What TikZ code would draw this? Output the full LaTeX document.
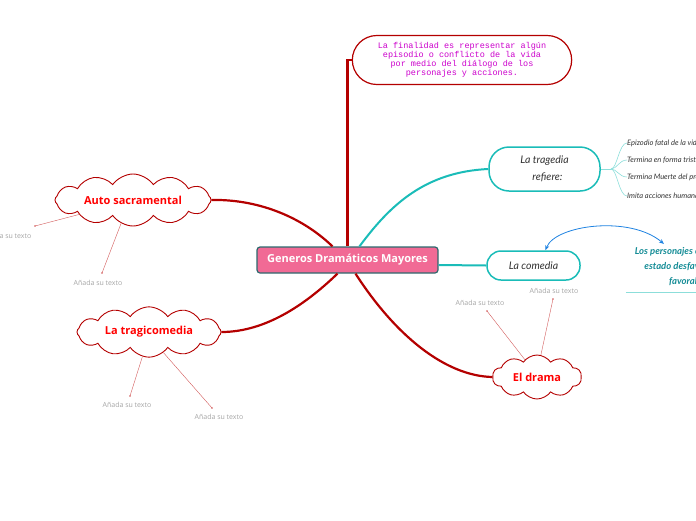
\documentclass[tikz,border=0pt]{standalone}
\usepackage{fontspec}
\setmainfont{Open Sans}
\newfontfamily\monofont{Liberation Mono}
\newfontfamily\handfont{Lato}
\usepackage{xcolor}
\usetikzlibrary{arrows.meta,shapes,shapes.symbols,shapes.misc}
\definecolor{branchred}{RGB}{180,0,0}
\definecolor{tealline}{RGB}{26,188,184}
\definecolor{pinkfill}{RGB}{241,106,149}
\definecolor{pinkborder}{RGB}{45,105,110}
\definecolor{magtext}{RGB}{204,0,204}
\definecolor{graytext}{RGB}{165,165,165}
\definecolor{thinred}{RGB}{210,90,90}
\definecolor{arrowblue}{RGB}{30,130,225}
\definecolor{persteal}{RGB}{20,140,150}
\definecolor{lightteal}{RGB}{140,222,218}
\definecolor{textdark}{RGB}{50,50,50}
\tikzset{
  genbox/.style={draw=pinkborder,fill=pinkfill,line width=1.2pt,rounded corners=3pt,minimum width=181pt,minimum height=26pt,text=white,font=\bfseries\fontsize{11}{13}\selectfont},
  finbox/.style={rounded rectangle,draw=branchred,line width=1.2pt,fill=white,minimum width=226pt,minimum height=49pt,align=center,text=magtext,font=\monofont\fontsize{8.5}{9}\selectfont},
  tealbox/.style={draw=tealline,line width=1.5pt,fill=white,align=center,text=textdark,font=\handfont\itshape\fontsize{10.5}{17}\selectfont},
  cloudnode/.style={cloud,cloud puffs=12,cloud puff arc=110,draw=branchred,line width=0.9pt,fill=white,text=red,inner sep=0pt,font=\bfseries\fontsize{11}{13}\selectfont},
  itemtxt/.style={anchor=west,inner sep=0pt,text=textdark,font=\handfont\itshape\fontsize{7.5}{8}\selectfont},
  addtxt/.style={text=graytext,inner sep=0pt,font=\fontsize{7}{8}\selectfont},
  redbranch/.style={draw=branchred,line width=2.2pt},
  tealbranch/.style={draw=tealline,line width=2pt},
  thinline/.style={draw=thinred,line width=0.4pt}
}
\begin{document}
\begin{tikzpicture}[x=1pt,y=-1pt,>=Stealth]
\useasboundingbox (0,0) rectangle (696,520);
\clip (0,0) rectangle (696,520);
\node[genbox](gen)at(347.5,260){Generos Dramáticos Mayores};
\node[finbox](fin)at(462,60){La finalidad es representar algún\\episodio o conflicto de la vida\\por medio del diálogo de los\\personajes y acciones.};
\node[tealbox,rounded corners=20pt,minimum width=111pt,minimum height=44pt](trag)at(544.5,169){La tragedia\\\hspace*{6pt}refiere:};
\node[tealbox,rounded corners=14pt,minimum width=93pt,minimum height=29pt](com)at(533.5,265.5){La comedia};
\node[cloudnode,aspect=4,minimum width=156pt,minimum height=38pt](as)at(133,200){Auto sacramental};
\node[cloudnode,aspect=3.6,minimum width=144pt,minimum height=38pt](tc)at(149,332){La tragicomedia};
\node[cloudnode,cloud puffs=10,aspect=2,minimum width=89pt,minimum height=44pt](dr)at(537,377){El drama};
\node[text=persteal,align=center,minimum width=124pt,minimum height=50pt,inner sep=0pt,font=\handfont\bfseries\itshape\fontsize{9.5}{15}\selectfont](pers)at(688,267){Los personajes cambian de\\estado desfavorable a\\favorable};
\draw[lightteal,line width=0.8pt](pers.south west)--(pers.south east);
\node[itemtxt](it1)at(627,143){Epizodio fatal de la vida};
\node[itemtxt](it2)at(627,160){Termina en forma triste};
\node[itemtxt](it3)at(627,177){Termina Muerte del protagonista};
\node[itemtxt](it4)at(627,196){Imita acciones humanas};
\coordinate(fk)at(611,169);
\draw[lightteal,line width=0.6pt](trag.east)--(fk);
\foreach \i in {1,...,4}
  \draw[lightteal,line width=0.6pt](fk)..controls +(6,0) and +(-8,0)..(it\i.west);
\draw[redbranch](gen.north)|-(fin.west);
\draw[redbranch]([xshift=-15pt]gen.north)..controls(300,215)and(255,199)..(as.east);
\draw[redbranch]([xshift=-10pt]gen.south)..controls(305,305)and(265,332)..(tc.east);
\draw[redbranch]([xshift=8pt]gen.south)..controls(395,335)and(445,376)..(dr.west);
\draw[tealbranch]([xshift=12pt]gen.north)..controls(390,205)and(425,172)..(trag.west);
\draw[tealbranch]([yshift=-5pt]gen.east)--(com.west);
\coordinate(pt)at(664,244);
\draw[arrowblue,line width=0.8pt,{Stealth[length=5pt,width=4pt]}-{Stealth[length=5pt,width=4pt]}]([xshift=12pt]com.north)..controls(555,225)and(630,215)..(pt);
\node[addtxt](a1)at(7,236){Añada su texto};
\node[addtxt](a2)at(98,283){Añada su texto};
\node[addtxt](a3)at(127,405){Añada su texto};
\node[addtxt](a4)at(219,417){Añada su texto};
\node[addtxt](a5)at(480,303){Añada su texto};
\node[addtxt](a6)at(554,291){Añada su texto};
\coordinate(d1)at(35,226);
\coordinate(d2)at(102,273);
\coordinate(d3)at(130,396);
\coordinate(d4)at(212,408);
\coordinate(d5)at(487,311);
\coordinate(d6)at(553,299);
\draw[thinline](as.195)--(d1);
\draw[thinline](as.243)--(d2);
\draw[thinline](tc.255)--(d3);
\draw[thinline](tc.305)--(d4);
\draw[thinline](dr.125)--(d5);
\draw[thinline](dr.80)--(d6);
\foreach \d in {d1,d2,d3,d4,d5,d6}
  \fill[thinred](\d)circle(0.8);
\end{tikzpicture}
\end{document}
